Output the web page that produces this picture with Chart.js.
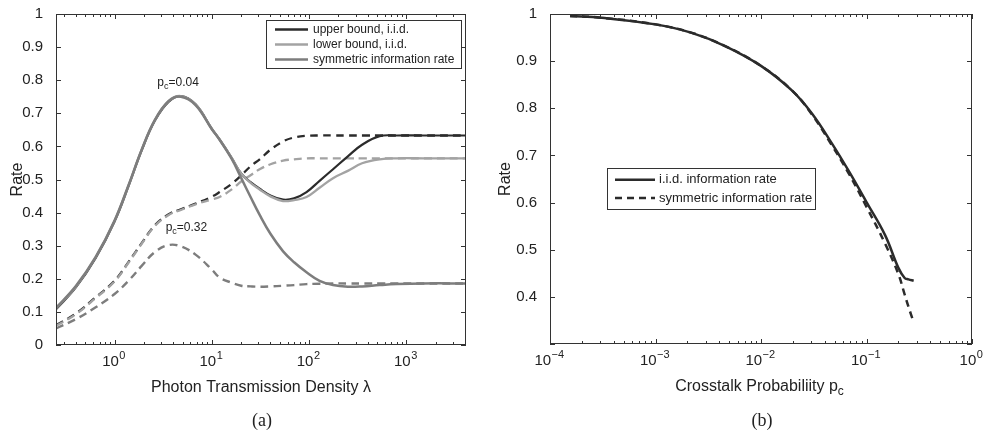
<!DOCTYPE html>
<html>
<head>
<meta charset="utf-8">
<script src="https://cdn.jsdelivr.net/npm/chart.js@4/dist/chart.umd.min.js"></script>
<style>
  body { margin: 0; background: #fff; }
  #wrap { position: relative; width: 984px; height: 434px; overflow: hidden; }
  canvas { position: absolute; top: 0; }
  .cap { position: absolute; top: 410px; width: 100px; text-align: center; line-height: 20px;
         font-family: "Liberation Serif", "DejaVu Serif", serif; font-size: 18px; color: #222; }
</style>
</head>
<body>
<div id="wrap">
  <canvas id="chartA" width="492" height="434" style="left:0"></canvas>
  <canvas id="chartB" width="492" height="434" style="left:492px"></canvas>
  <div class="cap" style="left:212px">(a)</div>
  <div class="cap" style="left:712px">(b)</div>
</div>
<script>
// ---- panel (a): rate vs photon transmission density ----
var lambda = [0.25, 0.4, 0.64, 1, 1.4, 1.9, 2.6, 3.6, 4.8, 6.8, 10, 12, 16, 20, 25, 31, 40, 54, 70, 94, 128, 176, 250, 350, 530, 800, 1500, 4096];
// p_c = 0.04 (solid)
var upper004 = [0.108, 0.174, 0.263, 0.373, 0.482, 0.588, 0.678, 0.735, 0.752, 0.727, 0.653, 0.621, 0.565, 0.518, 0.492, 0.472, 0.452, 0.439, 0.443, 0.462, 0.496, 0.531, 0.570, 0.605, 0.631, 0.633, 0.633, 0.633];
var lower004 = [0.110, 0.176, 0.265, 0.375, 0.484, 0.590, 0.680, 0.737, 0.752, 0.727, 0.653, 0.621, 0.565, 0.518, 0.490, 0.470, 0.449, 0.435, 0.438, 0.447, 0.475, 0.504, 0.526, 0.549, 0.561, 0.564, 0.564, 0.564];
var sym004   = [0.112, 0.178, 0.266, 0.376, 0.485, 0.590, 0.680, 0.737, 0.750, 0.725, 0.652, 0.620, 0.562, 0.505, 0.447, 0.393, 0.336, 0.283, 0.250, 0.220, 0.194, 0.181, 0.176, 0.177, 0.181, 0.184, 0.186, 0.186];
// p_c = 0.32 (dashed)
var upper032 = [0.060, 0.095, 0.144, 0.194, 0.252, 0.308, 0.362, 0.395, 0.410, 0.427, 0.448, 0.462, 0.487, 0.512, 0.540, 0.561, 0.590, 0.615, 0.627, 0.632, 0.633, 0.633, 0.633, 0.633, 0.633, 0.633, 0.633, 0.633];
var lower032 = [0.058, 0.093, 0.142, 0.192, 0.250, 0.306, 0.360, 0.393, 0.408, 0.425, 0.440, 0.447, 0.470, 0.494, 0.513, 0.531, 0.546, 0.557, 0.561, 0.564, 0.564, 0.564, 0.564, 0.564, 0.564, 0.564, 0.564, 0.564];
var sym032   = [0.050, 0.078, 0.114, 0.154, 0.195, 0.239, 0.281, 0.302, 0.298, 0.273, 0.228, 0.204, 0.188, 0.179, 0.177, 0.176, 0.177, 0.179, 0.181, 0.184, 0.185, 0.186, 0.186, 0.186, 0.186, 0.186, 0.186, 0.186];
var legendA = ["upper bound, i.i.d.", "lower bound, i.i.d.", "symmetric information rate"];
var xTicksA = [1, 10, 100, 1000];
var xExpA = ["0", "1", "2", "3"];
var yLabelsA = ["0", "0.1", "0.2", "0.3", "0.4", "0.5", "0.6", "0.7", "0.8", "0.9", "1"];

// ---- panel (b): rate vs crosstalk probability ----
var pc = [1.55e-4, 3.1e-4, 1e-3, 2.21e-3, 4.57e-3, 1e-2, 1.96e-2, 3.04e-2, 4.71e-2, 6.78e-2, 0.1, 0.15, 0.2, 0.23, 0.25, 0.28];
var iidRate = [0.996, 0.992, 0.978, 0.960, 0.932, 0.890, 0.838, 0.789, 0.725, 0.667, 0.601, 0.531, 0.462, 0.440, 0.437, 0.434];
var symRate = [0.996, 0.992, 0.978, 0.960, 0.932, 0.890, 0.838, 0.787, 0.721, 0.662, 0.591, 0.513, 0.449, 0.405, 0.379, 0.346];
var legendB = ["i.i.d. information rate", "symmetric information rate"];
var xTicksB = [1e-4, 1e-3, 1e-2, 1e-1, 1];
var xExpB = ["\u22124", "\u22123", "\u22122", "\u22121", "0"];
var yLabelsB = ["", "0.4", "0.5", "0.6", "0.7", "0.8", "0.9", "1"];

var DARK = "#2b2b2b", LIGHT = "#a3a3a3", MID = "#7d7d7d", TEXT = "#222";
var FAMILY = '"Liberation Sans", Arial, sans-serif';
Chart.defaults.font.family = FAMILY;
Chart.defaults.color = TEXT;

function pts(xs, ys) {
  return xs.map(function (x, i) { return { x: x, y: ys[i] }; });
}

// box with inward ticks on all four sides, MATLAB style, plus 10^n labels
function framePlugin(ticks, exps) {
  return {
    id: "frame",
    afterDatasetsDraw: function (chart) {
      var ctx = chart.ctx, a = chart.chartArea, x = chart.scales.x, y = chart.scales.y;
      ctx.save();
      ctx.strokeStyle = "#333";
      ctx.lineWidth = 1;
      ctx.beginPath();
      var lo = Math.floor(Math.log10(x.min)), hi = Math.ceil(Math.log10(x.max));
      for (var e = lo; e <= hi; e++) {
        for (var m = 1; m < 10; m++) {
          var v = m * Math.pow(10, e);
          if (v < x.min * 0.999 || v > x.max * 1.001) continue;
          var px = Math.round(x.getPixelForValue(v)) + 0.5;
          var len = m === 1 ? 5 : 3;
          ctx.moveTo(px, a.bottom); ctx.lineTo(px, a.bottom - len);
          ctx.moveTo(px, a.top); ctx.lineTo(px, a.top + len);
        }
      }
      y.ticks.forEach(function (t) {
        var py = Math.round(y.getPixelForValue(t.value)) + 0.5;
        ctx.moveTo(a.left, py); ctx.lineTo(a.left + 5, py);
        ctx.moveTo(a.right, py); ctx.lineTo(a.right - 5, py);
      });
      ctx.stroke();
      ctx.strokeRect(Math.round(a.left) + 0.5, Math.round(a.top) + 0.5, Math.round(a.width) - 1, Math.round(a.height) - 1);

      // x tick labels as 10 with a raised exponent
      ctx.fillStyle = TEXT;
      ctx.textBaseline = "middle";
      ctx.textAlign = "left";
      ticks.forEach(function (v, i) {
        ctx.font = "15px " + FAMILY;
        var wb = ctx.measureText("10").width;
        ctx.font = "11px " + FAMILY;
        var we = ctx.measureText(exps[i]).width;
        var sx = x.getPixelForValue(v) - (wb + we) / 2 - 1;
        ctx.font = "15px " + FAMILY;
        ctx.fillText("10", sx, a.bottom + 17);
        ctx.font = "11px " + FAMILY;
        ctx.fillText(exps[i], sx + wb + 0.5, a.bottom + 11);
      });
      ctx.restore();
    }
  };
}

// legend box drawn inside the plot area
function legendPlugin(items, box, fontSize) {
  return {
    id: "boxLegend",
    afterDraw: function (chart) {
      var ctx = chart.ctx, a = chart.chartArea;
      var bx = box.fromRight ? a.right - box.dx - box.w : a.left + box.dx;
      var by = a.top + box.dy;
      ctx.save();
      ctx.fillStyle = "#fff";
      ctx.fillRect(bx, by, box.w, box.h);
      ctx.strokeStyle = "#333";
      ctx.lineWidth = 1;
      ctx.strokeRect(Math.round(bx) + 0.5, Math.round(by) + 0.5, box.w, box.h);
      ctx.font = fontSize + "px " + FAMILY;
      ctx.textBaseline = "middle";
      ctx.fillStyle = TEXT;
      items.forEach(function (it, i) {
        var yy = by + box.row0 + i * box.rowGap;
        ctx.strokeStyle = it.color;
        ctx.lineWidth = it.width;
        ctx.setLineDash(it.dash || []);
        ctx.beginPath();
        ctx.moveTo(bx + box.l0, yy); ctx.lineTo(bx + box.l1, yy);
        ctx.stroke();
        ctx.setLineDash([]);
        ctx.fillText(it.text, bx + box.tx, yy);
      });
      ctx.restore();
    }
  };
}

// text with a subscript, e.g. p_c
function drawSub(ctx, x, y, base, sub, rest, size) {
  ctx.font = size + "px " + FAMILY;
  ctx.fillText(base, x, y);
  x += ctx.measureText(base).width;
  ctx.font = Math.round(size * 0.72) + "px " + FAMILY;
  ctx.fillText(sub, x, y + size * 0.3);
  x += ctx.measureText(sub).width;
  ctx.font = size + "px " + FAMILY;
  if (rest) ctx.fillText(rest, x, y);
}

var notesA = {
  id: "notesA",
  afterDraw: function (chart) {
    var ctx = chart.ctx, x = chart.scales.x, y = chart.scales.y;
    ctx.save();
    ctx.fillStyle = TEXT;
    ctx.textBaseline = "middle";
    drawSub(ctx, x.getPixelForValue(2.75), y.getPixelForValue(0.792), "p", "c", "=0.04", 12);
    drawSub(ctx, x.getPixelForValue(3.35), y.getPixelForValue(0.355), "p", "c", "=0.32", 12);
    ctx.restore();
  }
};

var titleB = {
  id: "titleB",
  afterDraw: function (chart) {
    var ctx = chart.ctx, a = chart.chartArea;
    ctx.save();
    ctx.fillStyle = TEXT;
    ctx.textBaseline = "middle";
    ctx.font = "16px " + FAMILY;
    var main = "Crosstalk Probabiliity p";
    var w = ctx.measureText(main).width + 7;
    drawSub(ctx, (a.left + a.right) / 2 - w / 2 - 1, 387, main, "c", "", 16);
    ctx.restore();
  }
};

function line(label, xs, ys, color, width, dash) {
  return {
    label: label, data: pts(xs, ys), borderColor: color, borderWidth: width,
    borderDash: dash || [], pointRadius: 0, fill: false, tension: 0.4
  };
}

var tickFont = { size: 15 };
var DASH = [8, 5];

// first dataset is painted on top
new Chart(document.getElementById("chartA"), {
  type: "line",
  data: {
    datasets: [
      line(legendA[2], lambda, sym004, MID, 2.5),
      line(legendA[1], lambda, lower004, LIGHT, 2.3),
      line(legendA[0], lambda, upper004, DARK, 2.2),
      line(legendA[2], lambda, sym032, MID, 2.4, DASH),
      line(legendA[1], lambda, lower032, LIGHT, 2.3, DASH),
      line(legendA[0], lambda, upper032, DARK, 2.3, DASH)
    ]
  },
  options: {
    responsive: false,
    animation: false,
    layout: { padding: { top: 9, right: 26, left: 0, bottom: 0 } },
    plugins: { legend: { display: false }, tooltip: { enabled: false } },
    scales: {
      x: {
        type: "logarithmic", min: 0.25, max: 4096,
        grid: { display: false }, border: { display: false },
        afterBuildTicks: function (s) { s.ticks = xTicksA.map(function (v) { return { value: v }; }); },
        afterFit: function (s) { s.height = 89; },
        ticks: { display: false },
        title: { display: true, text: "Photon Transmission Density \u03bb", font: { size: 16 },
                 padding: { top: 0, bottom: 37 } }
      },
      y: {
        min: 0, max: 1,
        grid: { display: false }, border: { display: false },
        afterFit: function (s) { s.width = 56; },
        ticks: { font: tickFont, padding: 5, stepSize: 0.1,
                 callback: function (v, i) { return yLabelsA[i]; } },
        title: { display: true, text: "Rate", font: { size: 16 }, padding: { top: 8, bottom: 0 } }
      }
    }
  },
  plugins: [framePlugin(xTicksA, xExpA), notesA,
    legendPlugin([
      { text: legendA[0], color: DARK, width: 2.5 },
      { text: legendA[1], color: LIGHT, width: 2.5 },
      { text: legendA[2], color: MID, width: 2.5 }
    ], { fromRight: true, dx: 5, dy: 5.5, w: 195, h: 48, row0: 10, rowGap: 15, l0: 9, l1: 42, tx: 47 }, 12)]
});

new Chart(document.getElementById("chartB"), {
  type: "line",
  data: {
    datasets: [
      line(legendB[0], pc, iidRate, DARK, 2.5),
      line(legendB[1], pc, symRate, DARK, 2.5, [7, 5])
    ]
  },
  options: {
    responsive: false,
    animation: false,
    layout: { padding: { top: 9, right: 12, left: 0, bottom: 0 } },
    plugins: { legend: { display: false }, tooltip: { enabled: false } },
    scales: {
      x: {
        type: "logarithmic", min: 1e-4, max: 1,
        grid: { display: false }, border: { display: false },
        afterBuildTicks: function (s) { s.ticks = xTicksB.map(function (v) { return { value: v }; }); },
        afterFit: function (s) { s.height = 90; },
        ticks: { display: false },
        title: { display: false }
      },
      y: {
        min: 0.3, max: 1,
        grid: { display: false }, border: { display: false },
        afterFit: function (s) { s.width = 58; },
        ticks: { font: tickFont, padding: 5, stepSize: 0.1,
                 callback: function (v, i) { return yLabelsB[i]; } },
        title: { display: true, text: "Rate", font: { size: 16 }, padding: { top: 4, bottom: 0 } }
      }
    }
  },
  plugins: [framePlugin(xTicksB, xExpB), titleB,
    legendPlugin([
      { text: legendB[0], color: DARK, width: 2.5 },
      { text: legendB[1], color: DARK, width: 2.5, dash: [7, 5] }
    ], { fromRight: false, dx: 57, dy: 153.5, w: 208, h: 41, row0: 12.3, rowGap: 18.3, l0: 8, l1: 48, tx: 52 }, 13)]
});
</script>
</body>
</html>
